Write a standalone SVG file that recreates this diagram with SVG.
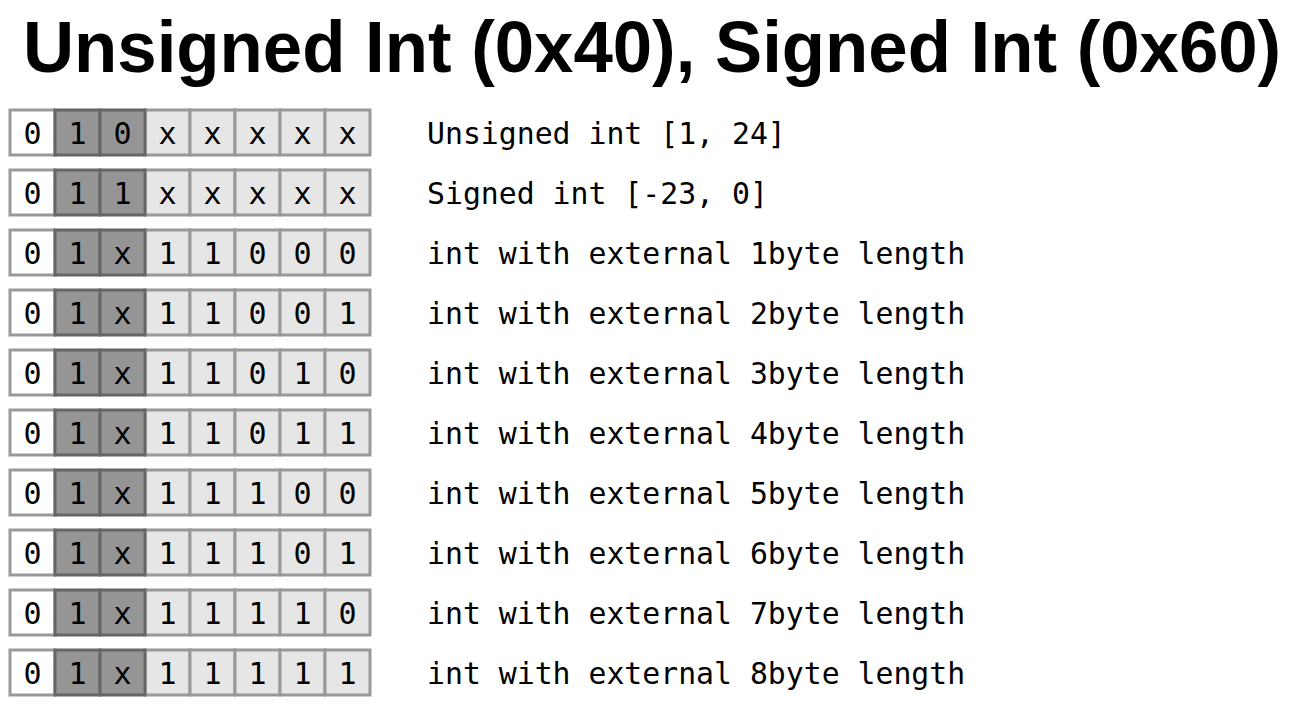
<svg xmlns="http://www.w3.org/2000/svg" width="1294" height="722" viewBox="0 0 1294 722">
  <style>
    .title { font-family: "Liberation Sans", Arial, sans-serif; font-weight: bold; font-size: 72px; fill: #000; }
    .bit { font-family: "DejaVu Sans Mono", "Liberation Mono", monospace; font-size: 30px; fill: #000; text-anchor: middle; }
    .label { font-family: "DejaVu Sans Mono", "Liberation Mono", monospace; font-size: 29.8px; fill: #000; }
    .w { fill: #ffffff; stroke: #999999; stroke-width: 3; }
    .l { fill: #e6e6e6; stroke: #999999; stroke-width: 3; }
    .d { fill: #959595; stroke: #666666; stroke-width: 3; }
  </style>
  <defs>
    <!-- one byte: white sign cell, two dark tag cells, five light payload cells -->
    <g id="byte">
      <rect class="w" x="10" y="0" width="45" height="45"/>
      <rect class="l" x="145" y="0" width="45" height="45"/>
      <rect class="l" x="190" y="0" width="45" height="45"/>
      <rect class="l" x="235" y="0" width="45" height="45"/>
      <rect class="l" x="280" y="0" width="45" height="45"/>
      <rect class="l" x="325" y="0" width="45" height="45"/>
      <rect class="d" x="55" y="0" width="45" height="45"/>
      <rect class="d" x="100" y="0" width="45" height="45"/>
    </g>
  </defs>

  <text class="title" transform="translate(23,72) scale(0.983,1)" x="0" y="0">Unsigned Int (0x40), Signed Int (0x60)</text>

  <g id="row1" transform="translate(0,110)">
    <use href="#byte"/>
    <g class="bit"><text x="32.5" y="34">0</text><text x="77.5" y="34">1</text><text x="122.5" y="34">0</text><text x="167.5" y="34">x</text><text x="212.5" y="34">x</text><text x="257.5" y="34">x</text><text x="302.5" y="34">x</text><text x="347.5" y="34">x</text></g>
    <text class="label" x="427" y="34">Unsigned int [1, 24]</text>
  </g>
  <g id="row2" transform="translate(0,170)">
    <use href="#byte"/>
    <g class="bit"><text x="32.5" y="34">0</text><text x="77.5" y="34">1</text><text x="122.5" y="34">1</text><text x="167.5" y="34">x</text><text x="212.5" y="34">x</text><text x="257.5" y="34">x</text><text x="302.5" y="34">x</text><text x="347.5" y="34">x</text></g>
    <text class="label" x="427" y="34">Signed int [-23, 0]</text>
  </g>
  <g id="row3" transform="translate(0,230)">
    <use href="#byte"/>
    <g class="bit"><text x="32.5" y="34">0</text><text x="77.5" y="34">1</text><text x="122.5" y="34">x</text><text x="167.5" y="34">1</text><text x="212.5" y="34">1</text><text x="257.5" y="34">0</text><text x="302.5" y="34">0</text><text x="347.5" y="34">0</text></g>
    <text class="label" x="427" y="34">int with external 1byte length</text>
  </g>
  <g id="row4" transform="translate(0,290)">
    <use href="#byte"/>
    <g class="bit"><text x="32.5" y="34">0</text><text x="77.5" y="34">1</text><text x="122.5" y="34">x</text><text x="167.5" y="34">1</text><text x="212.5" y="34">1</text><text x="257.5" y="34">0</text><text x="302.5" y="34">0</text><text x="347.5" y="34">1</text></g>
    <text class="label" x="427" y="34">int with external 2byte length</text>
  </g>
  <g id="row5" transform="translate(0,350)">
    <use href="#byte"/>
    <g class="bit"><text x="32.5" y="34">0</text><text x="77.5" y="34">1</text><text x="122.5" y="34">x</text><text x="167.5" y="34">1</text><text x="212.5" y="34">1</text><text x="257.5" y="34">0</text><text x="302.5" y="34">1</text><text x="347.5" y="34">0</text></g>
    <text class="label" x="427" y="34">int with external 3byte length</text>
  </g>
  <g id="row6" transform="translate(0,410)">
    <use href="#byte"/>
    <g class="bit"><text x="32.5" y="34">0</text><text x="77.5" y="34">1</text><text x="122.5" y="34">x</text><text x="167.5" y="34">1</text><text x="212.5" y="34">1</text><text x="257.5" y="34">0</text><text x="302.5" y="34">1</text><text x="347.5" y="34">1</text></g>
    <text class="label" x="427" y="34">int with external 4byte length</text>
  </g>
  <g id="row7" transform="translate(0,470)">
    <use href="#byte"/>
    <g class="bit"><text x="32.5" y="34">0</text><text x="77.5" y="34">1</text><text x="122.5" y="34">x</text><text x="167.5" y="34">1</text><text x="212.5" y="34">1</text><text x="257.5" y="34">1</text><text x="302.5" y="34">0</text><text x="347.5" y="34">0</text></g>
    <text class="label" x="427" y="34">int with external 5byte length</text>
  </g>
  <g id="row8" transform="translate(0,530)">
    <use href="#byte"/>
    <g class="bit"><text x="32.5" y="34">0</text><text x="77.5" y="34">1</text><text x="122.5" y="34">x</text><text x="167.5" y="34">1</text><text x="212.5" y="34">1</text><text x="257.5" y="34">1</text><text x="302.5" y="34">0</text><text x="347.5" y="34">1</text></g>
    <text class="label" x="427" y="34">int with external 6byte length</text>
  </g>
  <g id="row9" transform="translate(0,590)">
    <use href="#byte"/>
    <g class="bit"><text x="32.5" y="34">0</text><text x="77.5" y="34">1</text><text x="122.5" y="34">x</text><text x="167.5" y="34">1</text><text x="212.5" y="34">1</text><text x="257.5" y="34">1</text><text x="302.5" y="34">1</text><text x="347.5" y="34">0</text></g>
    <text class="label" x="427" y="34">int with external 7byte length</text>
  </g>
  <g id="row10" transform="translate(0,650)">
    <use href="#byte"/>
    <g class="bit"><text x="32.5" y="34">0</text><text x="77.5" y="34">1</text><text x="122.5" y="34">x</text><text x="167.5" y="34">1</text><text x="212.5" y="34">1</text><text x="257.5" y="34">1</text><text x="302.5" y="34">1</text><text x="347.5" y="34">1</text></g>
    <text class="label" x="427" y="34">int with external 8byte length</text>
  </g>
</svg>
